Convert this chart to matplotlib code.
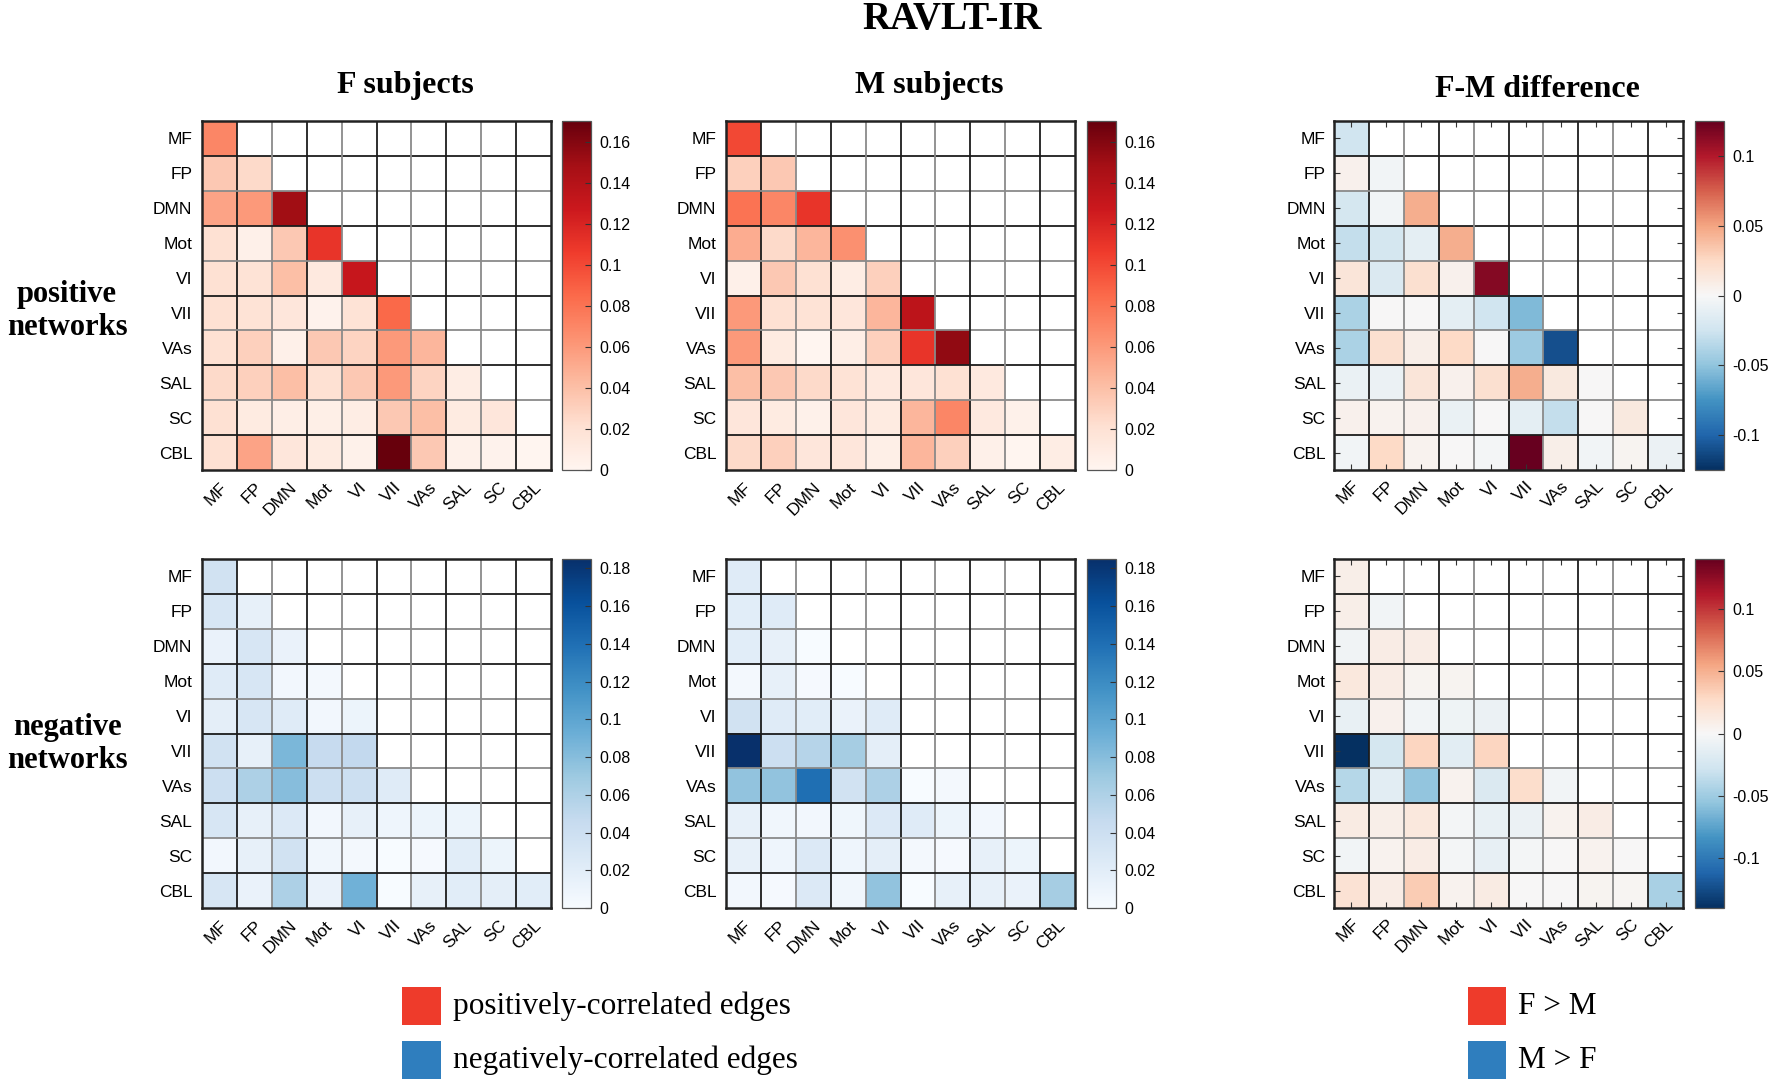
import numpy as np
import matplotlib
matplotlib.use("Agg")
from matplotlib import pyplot as plt
from matplotlib.patches import Rectangle


networks = ["MF", "FP", "DMN", "Mot", "VI", "VII", "VAs", "SAL", "SC", "CBL"]

# lower triangles, row by row (MF..CBL)
f_pos = [
    [0.070],
    [0.035, 0.025],
    [0.055, 0.060, 0.150],
    [0.020, 0.005, 0.035, 0.110],
    [0.020, 0.018, 0.040, 0.012, 0.130],
    [0.020, 0.018, 0.015, 0.003, 0.018, 0.085],
    [0.020, 0.030, 0.005, 0.035, 0.028, 0.060, 0.045],
    [0.025, 0.030, 0.040, 0.020, 0.035, 0.060, 0.028, 0.008],
    [0.020, 0.010, 0.007, 0.006, 0.008, 0.035, 0.040, 0.010, 0.015],
    [0.020, 0.055, 0.015, 0.010, 0.004, 0.170, 0.035, 0.004, 0.003, 0.000],
]
m_pos = [
    [0.100],
    [0.030, 0.035],
    [0.080, 0.070, 0.110],
    [0.050, 0.025, 0.045, 0.065],
    [0.005, 0.035, 0.020, 0.008, 0.030],
    [0.060, 0.020, 0.018, 0.015, 0.045, 0.135],
    [0.060, 0.010, 0.000, 0.007, 0.030, 0.110, 0.155],
    [0.040, 0.035, 0.025, 0.018, 0.012, 0.015, 0.020, 0.012],
    [0.015, 0.010, 0.004, 0.015, 0.010, 0.045, 0.070, 0.012, 0.004],
    [0.025, 0.030, 0.015, 0.015, 0.006, 0.045, 0.030, 0.005, 0.000, 0.008],
]
diff_pos = [
    [-0.025],
    [0.005, -0.003],
    [-0.022, -0.003, 0.045],
    [-0.030, -0.022, -0.012, 0.045],
    [0.015, -0.018, 0.020, 0.005, 0.115],
    [-0.040, 0.000, 0.000, -0.012, -0.025, -0.055],
    [-0.040, 0.020, 0.007, 0.025, 0.000, -0.045, -0.110],
    [-0.008, -0.007, 0.015, 0.005, 0.020, 0.045, 0.012, 0.000],
    [0.005, 0.004, 0.005, -0.008, 0.000, -0.012, -0.030, 0.000, 0.012],
    [-0.003, 0.025, 0.004, 0.000, -0.002, 0.125, 0.007, -0.003, 0.003, -0.007],
]
f_neg = [
    [0.035],
    [0.030, 0.015],
    [0.012, 0.030, 0.012],
    [0.022, 0.030, 0.005, 0.003],
    [0.018, 0.030, 0.022, 0.005, 0.010],
    [0.035, 0.015, 0.085, 0.045, 0.048],
    [0.040, 0.060, 0.080, 0.040, 0.040, 0.022],
    [0.030, 0.015, 0.025, 0.005, 0.015, 0.008, 0.010, 0.010],
    [0.005, 0.015, 0.035, 0.006, 0.004, 0.000, 0.002, 0.020, 0.010],
    [0.030, 0.012, 0.060, 0.012, 0.090, 0.000, 0.015, 0.020, 0.018, 0.020],
]
m_neg = [
    [0.022],
    [0.020, 0.022],
    [0.020, 0.015, 0.000],
    [0.003, 0.015, 0.002, 0.000],
    [0.035, 0.022, 0.020, 0.012, 0.022],
    [0.185, 0.040, 0.055, 0.065, 0.018],
    [0.075, 0.075, 0.140, 0.035, 0.060, 0.000, 0.004],
    [0.015, 0.006, 0.005, 0.007, 0.025, 0.022, 0.010, 0.005],
    [0.015, 0.008, 0.025, 0.008, 0.018, 0.003, 0.002, 0.015, 0.010],
    [0.005, 0.002, 0.025, 0.006, 0.075, 0.000, 0.015, 0.015, 0.012, 0.065],
]
diff_neg = [
    [0.008],
    [0.008, -0.004],
    [-0.005, 0.010, 0.010],
    [0.015, 0.010, 0.004, 0.004],
    [-0.010, 0.006, -0.004, -0.006, -0.008],
    [-0.140, -0.025, 0.030, -0.015, 0.030],
    [-0.040, -0.015, -0.055, 0.005, -0.020, 0.025, -0.004],
    [0.012, 0.008, 0.015, -0.003, -0.010, -0.008, 0.005, 0.010],
    [-0.004, 0.005, 0.010, -0.003, -0.012, -0.003, 0.000, 0.005, 0.000],
    [0.020, 0.010, 0.035, 0.005, 0.012, 0.000, 0.000, 0.004, 0.003, -0.045],
]

pos_ticks = [0, 0.02, 0.04, 0.06, 0.08, 0.1, 0.12, 0.14, 0.16]
neg_ticks = [0, 0.02, 0.04, 0.06, 0.08, 0.1, 0.12, 0.14, 0.16, 0.18]
diff_ticks = [-0.1, -0.05, 0, 0.05, 0.1]

W, H = 1772, 1085
SERIF = "Liberation Serif"
SANS = "Liberation Sans"


def tri_to_matrix(rows):
    n = len(rows)
    mat = np.full((n, n), np.nan)
    for i, r in enumerate(rows):
        mat[i, :len(r)] = r
    return mat


def px_rect(x0, y0, x1, y1):
    # pixel box (top-left origin) -> figure fraction rect
    return [x0 / W, 1 - y1 / H, (x1 - x0) / W, (y1 - y0) / H]


def plot_panel(fig, box, cbox, rows, cmap_name, vmin, vmax, ticks, diff=False):
    ax = fig.add_axes(px_rect(*box))
    cmap = plt.get_cmap(cmap_name).copy()
    cmap.set_bad("white")
    mat = tri_to_matrix(rows)
    n = len(networks)
    im = ax.imshow(mat, cmap=cmap, vmin=vmin, vmax=vmax, aspect="auto",
                   extent=(0, n, n, 0), interpolation="nearest")

    # cell borders, alternating dark / grey like the original export
    for k in range(1, n):
        col = "#1c1c1c" if k % 2 else "#8a8a8a"
        ax.axhline(k, color=col, lw=1.3)
        ax.axvline(k, color=col, lw=1.3)

    ax.set_xlim(0, n)
    ax.set_ylim(n, 0)
    centers = np.arange(n) + 0.5
    ax.set_xticks(centers)
    ax.set_yticks(centers)
    ax.set_xticklabels(networks, rotation=45, ha="right", va="top",
                       rotation_mode="anchor", fontsize=12.5, family=SANS)
    ax.set_yticklabels(networks, fontsize=12.5, family=SANS)
    if diff:
        ax.tick_params(direction="in", length=4, width=0.8, top=True, right=True,
                       color="#333333", pad=6)
    else:
        ax.tick_params(length=0, pad=7)
    for sp in ax.spines.values():
        sp.set_linewidth(1.8)
        sp.set_color("#222222")

    cax = fig.add_axes(px_rect(*cbox))
    cb = fig.colorbar(im, cax=cax)
    cb.set_ticks(ticks)
    cb.set_ticklabels([f"{t:g}" for t in ticks])
    cax.tick_params(direction="in", length=4, width=0.8, labelsize=11.5, pad=6,
                    color="#333333")
    for lab in cax.get_yticklabels():
        lab.set_family(SANS)
    cb.outline.set_linewidth(0.9)
    cb.outline.set_edgecolor("#555555")
    return ax


fig = plt.figure(figsize=(W / 100, H / 100), dpi=100)

top = (121, 470)
bot = (559, 908)
cols = [
    ((202, 551), (562, 591)),
    ((726, 1075), (1087, 1116)),
    ((1334, 1683), (1695, 1724)),
]

panels_top = [
    (f_pos, "Reds", 0, 0.17, pos_ticks, False),
    (m_pos, "Reds", 0, 0.17, pos_ticks, False),
    (diff_pos, "RdBu_r", -0.125, 0.125, diff_ticks, True),
]
panels_bot = [
    (f_neg, "Blues", 0, 0.185, neg_ticks, False),
    (m_neg, "Blues", 0, 0.185, neg_ticks, False),
    (diff_neg, "RdBu_r", -0.14, 0.14, diff_ticks, True),
]

for (axx, cbx), p in zip(cols, panels_top):
    plot_panel(fig, (axx[0], top[0], axx[1], top[1]), (cbx[0], top[0], cbx[1], top[1]), *p)
for (axx, cbx), p in zip(cols, panels_bot):
    plot_panel(fig, (axx[0], bot[0], axx[1], bot[1]), (cbx[0], bot[0], cbx[1], bot[1]), *p)

# titles
fig.text(952 / W, 1 - 20 / H, "RAVLT-IR", ha="center", va="center",
         fontsize=28, fontweight="bold", family=SERIF)
for x, y, s in [(405, 93, "F subjects"), (929, 93, "M subjects"), (1537, 97, "F-M difference")]:
    fig.text(x / W, 1 - y / H, s, ha="center", va="baseline",
             fontsize=23, fontweight="bold", family=SERIF)

# row labels
for y, s in [(302, "positive"), (335, "networks"), (735, "negative"), (768, "networks")]:
    fig.text(67 / W, 1 - y / H, s, ha="center", va="baseline", fontsize=22,
             fontweight="bold", family=SERIF)

# legends
red_sq = "#ee3b2b"
blue_sq = "#2f7ebe"
legend_items = [
    (402, 441, 453, ["positively-correlated edges", "negatively-correlated edges"]),
    (1468, 1506, 1518, ["F > M", "M > F"]),
]
for x0, x1, tx, labels in legend_items:
    for (y0, y1), col, lab in zip([(987, 1025), (1041, 1079)], [red_sq, blue_sq], labels):
        r = px_rect(x0, y0, x1, y1)
        fig.add_artist(Rectangle((r[0], r[1]), r[2], r[3], transform=fig.transFigure,
                                 facecolor=col, edgecolor="none"))
        fig.text(tx / W, 1 - (y0 + y1) / 2 / H, lab, ha="left", va="center",
                 fontsize=22.5, family=SERIF)

fig.savefig("out.png", dpi=100, facecolor="white")
